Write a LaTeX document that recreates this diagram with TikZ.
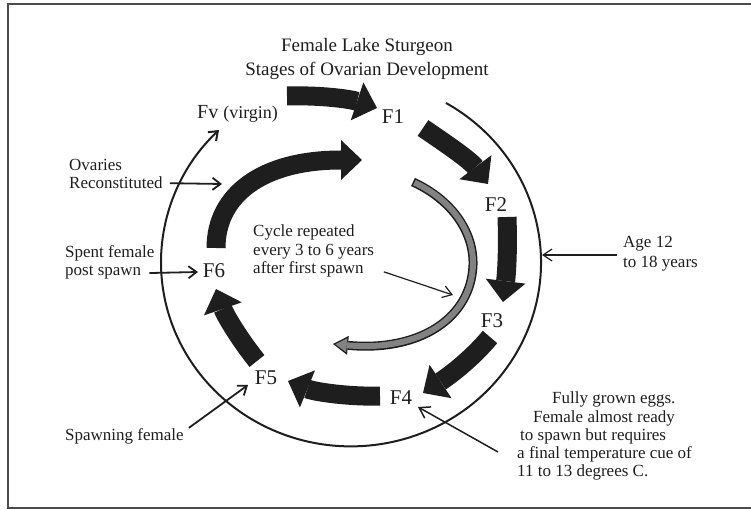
\documentclass[tikz,border=0pt]{standalone}
\usepackage{fontspec}
\setmainfont{Liberation Serif}
\usetikzlibrary{arrows.meta}
\definecolor{ink}{RGB}{30,30,30}
\definecolor{grayarrow}{RGB}{130,130,130}
\begin{document}
\begin{tikzpicture}[x=1pt,y=-1pt,
  big/.style={line width=19pt, draw=ink, -{Triangle[width=40pt,length=21pt,line width=0pt]}},
  lbl/.style={anchor=base west, inner sep=0pt, text=ink, font=\fontsize{17}{18}\selectfont},
  ttl/.style={anchor=base, inner sep=0pt, text=ink, font=\fontsize{19}{22}\selectfont},
  stage/.style={anchor=base, inner sep=0pt, text=ink, font=\fontsize{21}{22}\selectfont},
  ptr/.style={line width=1.8pt, draw=ink, -{Straight Barb[length=8pt,width=12pt]}},
  thinptr/.style={line width=1.2pt, draw=ink, -{Straight Barb[length=9pt,width=12pt]}},
]
\useasboundingbox (0,0) rectangle (751,510);
% frame
\draw[line width=2.2pt, draw=ink!80] (751,4) -- (8,4) -- (8,508) -- (751,508);

% titles
\node[ttl] (t1) at (367,52) {Female Lake Sturgeon};
\node[ttl] (t2) at (367,76) {Stages of Ovarian Development};

% stage labels
\node[anchor=base west, inner sep=0pt, text=ink, font=\fontsize{20}{22}\selectfont] (Fv) at (197,119)
  {Fv {\fontsize{18}{20}\selectfont(virgin)}};
\node[stage] (F1) at (393,124) {F1};
\node[stage] (F2) at (496,212) {F2};
\node[stage] (F3) at (492,327) {F3};
\node[stage] (F4) at (401,404) {F4};
\node[stage] (F5) at (266,384) {F5};
\node[stage] (F6) at (214,277) {F6};

% outer age arc
\draw[line width=2pt, draw=ink, -{Straight Barb[length=8pt,width=12pt]}]
  (446,103) arc[start angle=-60, end angle=226, x radius=190, y radius=184];

% big cycle arrows
\draw[big] (287,96) .. controls (320,95) and (350,99) .. (377,108);
\draw[big] (423,128) .. controls (445,143) and (470,160) .. (488,184);
\draw[big] (507,217) .. controls (508,245) and (507,270) .. (503,302);
\draw[big] (490,337) .. controls (475,355) and (455,372) .. (423,393);
\draw[big] (380,396) .. controls (350,397) and (315,392) .. (288,381);
\draw[big] (257,361) .. controls (240,340) and (225,315) .. (216,289);
\draw[big] (216,248) .. controls (216,195) and (262,160) .. (362,160);

% gray repeat arrow
\draw[line width=9pt, draw=ink, -{Triangle[width=19pt,length=15pt,line width=0pt]}]
  (413,182) .. controls (452,200) and (474,232) .. (473,265)
  .. controls (471,318) and (420,352) .. (333,344);
\draw[line width=6pt, draw=grayarrow, shorten <=1.5pt, shorten >=2.3pt,
  -{Triangle[width=14pt,length=11.5pt,line width=0pt]}]
  (413,182) .. controls (452,200) and (474,232) .. (473,265)
  .. controls (471,318) and (420,352) .. (333,344);

% annotations
\node[lbl] (ov1) at (69,171) {Ovaries};
\node[lbl] (ov2) at (69,189) {Reconstituted};
\node[lbl] (sp1) at (65,258) {Spent female};
\node[lbl] (sp2) at (65,276) {post spawn};
\node[lbl] (sw)  at (65,440) {Spawning female};
\node[lbl] (cy1) at (253,237) {Cycle repeated};
\node[lbl] (cy2) at (253,255) {every 3 to 6 years};
\node[lbl] (cy3) at (253,273) {after first spawn};
\node[lbl] (ag1) at (623,248) {Age 12};
\node[lbl] (ag2) at (623,267) {to 18 years};
\node[lbl] (fg1) at (552,403) {Fully grown eggs.};
\node[lbl] (fg2) at (533,422) {Female almost ready};
\node[lbl] (fg3) at (520,440) {to spawn but requires};
\node[lbl] (fg4) at (517,458) {a final temperature cue of};
\node[lbl] (fg5) at (517,476) {11 to 13 degrees C.};

% pointer ends
\coordinate (ovT) at (222,184);
\coordinate (spT) at (198,272);
\coordinate (swT) at (248,385);
\coordinate (agT) at (542,255);
\coordinate (agS) at (617,255);
\coordinate (cyT) at (453,295);
\coordinate (f4T) at (418,407);
\coordinate (f4S) at (498,452);

\draw[ptr] (ov2.east) ++(7,0) -- (ovT);
\draw[ptr] (sp2.east) ++(8,0) -- (spT);
\draw[ptr] (sw.east) ++(5,-8) -- (swT);
\draw[thinptr] (agS) -- (agT);
\draw[thinptr] (cy3.east) ++(20,3) -- (cyT);
\draw[line width=1.5pt, draw=ink, -{Straight Barb[length=10pt,width=13pt]}] (f4S) -- (f4T);
\end{tikzpicture}
\end{document}
